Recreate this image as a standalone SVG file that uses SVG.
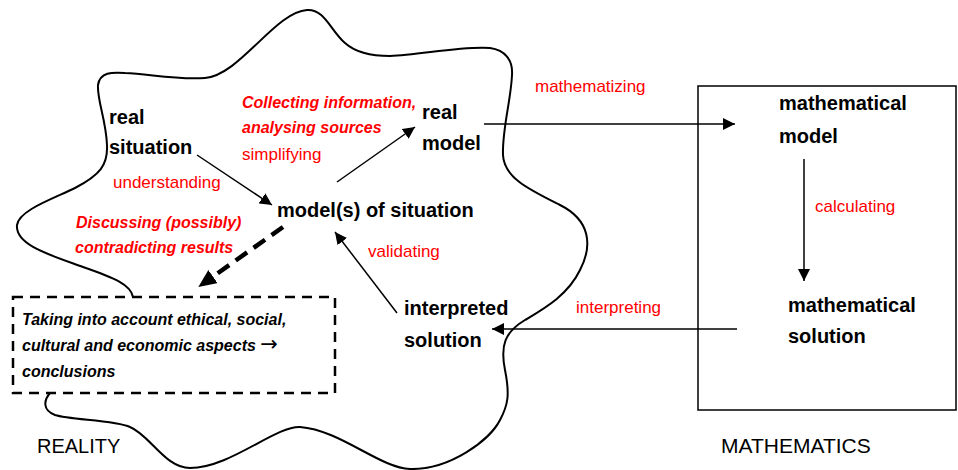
<svg xmlns="http://www.w3.org/2000/svg" width="958" height="470" viewBox="0 0 958 470">
<defs>
<style>
text{font-family:"Liberation Sans",Arial,sans-serif}
.b{font-weight:bold;font-size:20px;fill:#000}
.r{font-size:17px;fill:#ff0000}
.rbi{font-size:16px;font-weight:bold;font-style:italic;fill:#ff0000}
.kbi{font-size:16px;font-weight:bold;font-style:italic;fill:#000}
.cap{font-size:20px;fill:#000}
.arr{font-family:"DejaVu Sans",sans-serif;font-weight:normal;font-style:normal;font-size:21px}
.ln{stroke:#000;stroke-width:1.5;fill:none}
</style>
<marker id="ah" markerUnits="userSpaceOnUse" markerWidth="13" markerHeight="13" refX="12" refY="6" orient="auto">
<path d="M0,0 L12,6 L0,12 z" fill="#000"/>
</marker>
<marker id="ahd" markerUnits="userSpaceOnUse" markerWidth="19" markerHeight="17" refX="0" refY="8" orient="auto">
<path d="M0,0 L18,8 L0,16 z" fill="#000"/>
</marker>
</defs>
<g id="reality-region">
<path d="M133,297 C131,285 115,278 83,267 C50,255 15,245 17,225 C19,210 55,198 75,188 C100,175 108,165 107,145 C106,120 97,100 98,85 C100,72 112,72 125,73 C150,74 175,80 205,78 C240,75 275,12 307,10 C325,9 330,30 345,43 C355,52 370,56 390,56 C420,55 460,46 490,48 C505,50 513,60 512,75 C511,100 502,130 503,155 C504,178 530,190 560,205 C590,220 593,245 580,270 C568,295 545,308 525,320 C505,332 500,345 505,370 C510,395 508,405 500,420 C490,440 450,470 410,469 C380,468 340,430 300,427 C275,426 230,468 190,468 C165,468 150,435 130,427 C115,420 70,420 55,415 C42,410 44,400 50,393" fill="none" stroke="#000" stroke-width="2"/>
<text class="cap" x="37" y="453">REALITY</text>
</g>
<g id="mathematics-region">
<rect x="698" y="86" width="258" height="324" fill="none" stroke="#000" stroke-width="1.5"/>
<text class="cap" x="721" y="453" style="font-size:21px">MATHEMATICS</text>
</g>
<g id="real-situation">
<text class="b" x="109" y="124">real</text>
<text class="b" x="109" y="154">situation</text>
</g>
<g id="models-of-situation">
<text class="b" x="277" y="217">model(s) of situation</text>
</g>
<g id="real-model">
<text class="b" x="422" y="119">real</text>
<text class="b" x="422" y="150">model</text>
</g>
<g id="mathematical-model">
<text class="b" x="779" y="110">mathematical</text>
<text class="b" x="779" y="143">model</text>
</g>
<g id="mathematical-solution">
<text class="b" x="788" y="312">mathematical</text>
<text class="b" x="788" y="343">solution</text>
</g>
<g id="interpreted-solution">
<text class="b" x="404" y="315">interpreted</text>
<text class="b" x="404" y="347">solution</text>
</g>
<g id="conclusions">
<rect x="13" y="297" width="322" height="96" fill="none" stroke="#000" stroke-width="2.5" stroke-dasharray="10,7"/>
<text class="kbi" x="22" y="325">Taking into account ethical, social,</text>
<text class="kbi" x="22" y="351">cultural and economic aspects <tspan class="arr">→</tspan></text>
<text class="kbi" x="22" y="377">conclusions</text>
</g>
<g id="connectors">
<line class="ln" x1="197" y1="155" x2="272" y2="205" marker-end="url(#ah)"/>
<line class="ln" x1="337" y1="182" x2="415" y2="127" marker-end="url(#ah)"/>
<line class="ln" x1="397" y1="313" x2="335" y2="232" marker-end="url(#ah)"/>
<line class="ln" x1="484" y1="124" x2="735" y2="124" marker-end="url(#ah)"/>
<line class="ln" x1="804" y1="159" x2="804" y2="281" marker-end="url(#ah)"/>
<line class="ln" x1="737" y1="329" x2="492" y2="329" marker-end="url(#ah)"/>
<line x1="283" y1="227" x2="213" y2="276.6" stroke="#000" stroke-width="4.5" stroke-dasharray="14,8" marker-end="url(#ahd)"/>
</g>
<g id="labels">
<text class="rbi" x="242" y="108">Collecting information,</text>
<text class="rbi" x="242" y="133">analysing sources</text>
<text class="r" x="242" y="160">simplifying</text>
<text class="r" x="113" y="188">understanding</text>
<text class="rbi" x="76" y="228">Discussing (possibly)</text>
<text class="rbi" x="75" y="253">contradicting results</text>
<text class="r" x="368" y="257">validating</text>
<text class="r" x="535" y="92">mathematizing</text>
<text class="r" x="815" y="212">calculating</text>
<text class="r" x="576" y="313">interpreting</text>
</g>
</svg>
